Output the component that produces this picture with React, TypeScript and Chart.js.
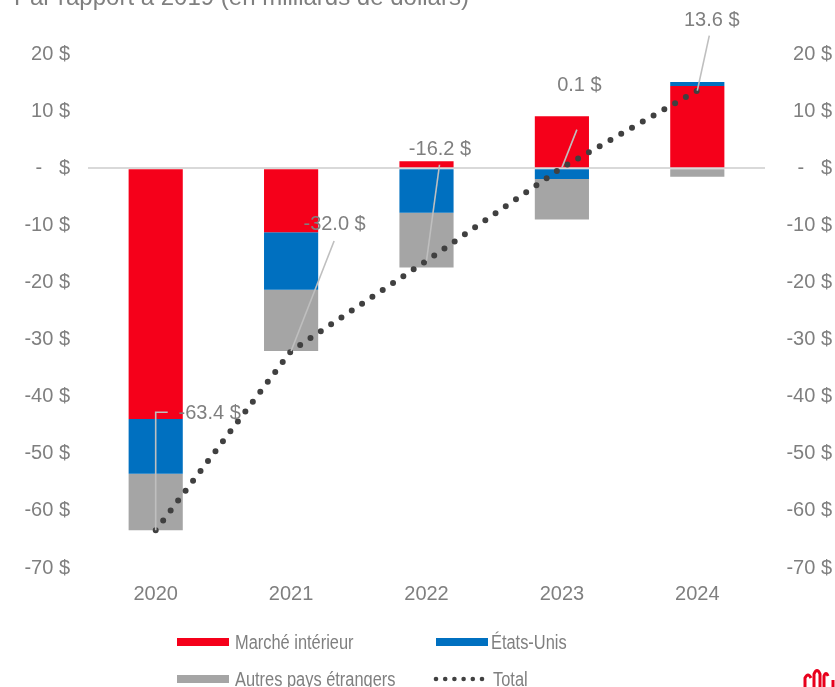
import React, { useEffect, useRef } from 'react';
import { Chart, registerables } from 'chart.js';

Chart.register(...registerables);

const categories = ['2020', '2021', '2022', '2023', '2024'];
const domesticMarket = [-43.9, -11.2, 1.2, 9.1, 14.4];
const unitedStates = [-9.6, -10.1, -7.8, -1.9, 0.7];
const otherForeign = [-9.9, -10.7, -9.6, -7.1, -1.5];
const totalValues = [-63.4, -32.0, -16.2, 0.1, 13.6];
const tickValues = [20, 10, 0, -10, -20, -30, -40, -50, -60, -70];

const titleText = 'Par rapport à 2019 (en milliards de dollars)';
const seriesNames = ['Marché intérieur', 'États-Unis', 'Autres pays étrangers', 'Total'];

const RED = '#F5001A';
const BLUE = '#0070C0';
const GRAY = '#A5A5A5';
const DOT = '#404040';
const TEXT = '#7F7F7F';

// label placement relative to each total point (pixels)
const labelLayout = [
  { dx: 54, dy: -117, leader: [[0, 0], [0, -118], [12, -118]] },
  { dx: 43.5, dy: -126, leader: [[0, 0], [43, -110]] },
  { dx: 13.5, dy: -111, leader: [[0, 0], [13, -96]] },
  { dx: 17.5, dy: -82, leader: [[0, 0], [15, -38]] },
  { dx: 14.5, dy: -70, leader: [[0, 0], [12, -55]] },
];

const tickLabel = (v: number) => (v === 0 ? '-\u00a0\u00a0\u00a0$' : `${v} $`);

const overlayPlugin = {
  id: 'overlay',
  afterDatasetsDraw(chart: any) {
    const ctx = chart.ctx;
    const meta = chart.getDatasetMeta(3);
    ctx.save();
    meta.data.forEach((pt: any, i: number) => {
      const lay = labelLayout[i];
      const x0 = pt.x;
      const y0 = pt.y;
      ctx.strokeStyle = '#BFBFBF';
      ctx.lineWidth = 1.6;
      ctx.beginPath();
      lay.leader.forEach((p, k) => {
        if (k === 0) ctx.moveTo(x0 + p[0], y0 + p[1]);
        else ctx.lineTo(x0 + p[0], y0 + p[1]);
      });
      ctx.stroke();
      ctx.fillStyle = TEXT;
      ctx.font = '20px "Liberation Sans", Arial, sans-serif';
      ctx.textAlign = 'center';
      ctx.textBaseline = 'middle';
      ctx.fillText(`${totalValues[i].toFixed(1)} $`, x0 + lay.dx, y0 + lay.dy);
    });
    ctx.restore();
  },
  afterDraw(chart: any) {
    const ctx = chart.ctx;
    ctx.save();
    // title (partly cut at the top)
    ctx.fillStyle = TEXT;
    ctx.font = '24px "Liberation Sans", Arial, sans-serif';
    ctx.textAlign = 'left';
    ctx.textBaseline = 'alphabetic';
    ctx.fillText(titleText, 14, 5);

    // legend
    const narrow = '20px "Liberation Sans Narrow", "Liberation Sans", Arial, sans-serif';
    const normal = '20px "Liberation Sans", Arial, sans-serif';
    ctx.font = normal;
    const wNormal = ctx.measureText(seriesNames[0]).width;
    ctx.font = narrow;
    const wNarrow = ctx.measureText(seriesNames[0]).width;
    const sx = Math.abs(wNormal - wNarrow) < 1 ? 0.82 : 1;

    const drawText = (t: string, x: number, y: number) => {
      ctx.save();
      ctx.translate(x, y);
      ctx.scale(sx, 1);
      ctx.fillStyle = TEXT;
      ctx.textAlign = 'left';
      ctx.textBaseline = 'middle';
      ctx.fillText(t, 0, 0);
      ctx.restore();
    };
    const row1 = 642;
    const row2 = 679;
    ctx.fillStyle = RED;
    ctx.fillRect(177, row1 - 4, 52, 8);
    drawText(seriesNames[0], 235, row1 + 1);
    ctx.fillStyle = BLUE;
    ctx.fillRect(436, row1 - 4, 52, 8);
    drawText(seriesNames[1], 491, row1 + 1);
    ctx.fillStyle = GRAY;
    ctx.fillRect(177, row2 - 4, 52, 8);
    drawText(seriesNames[2], 235, row2 + 1);
    ctx.fillStyle = DOT;
    for (let k = 0; k < 6; k++) {
      ctx.beginPath();
      ctx.arc(436 + k * 9.2, row2, 2.3, 0, Math.PI * 2);
      ctx.fill();
    }
    drawText(seriesNames[3], 493, row2 + 1);

    // partial logo at the bottom right
    ctx.strokeStyle = '#E8001C';
    ctx.lineWidth = 3;
    ctx.lineCap = 'butt';
    ctx.beginPath();
    ctx.moveTo(805, 688);
    ctx.lineTo(805, 678);
    ctx.quadraticCurveTo(808, 672, 811, 678);
    ctx.moveTo(814, 688);
    ctx.lineTo(814, 674);
    ctx.quadraticCurveTo(817, 667, 820, 674);
    ctx.lineTo(820, 688);
    ctx.moveTo(824, 688);
    ctx.lineTo(824, 676);
    ctx.quadraticCurveTo(826, 671, 828, 676);
    ctx.moveTo(833, 688);
    ctx.lineTo(833, 680);
    ctx.stroke();
    ctx.restore();
  },
};

export default function App() {
  const ref = useRef<HTMLCanvasElement | null>(null);

  useEffect(() => {
    if (!ref.current) return;
    const tickFont = { family: '"Liberation Sans", Arial, sans-serif', size: 20 };
    const chart = new Chart(ref.current, {
      type: 'bar',
      data: {
        labels: categories,
        datasets: [
          { type: 'bar', label: seriesNames[0], data: domesticMarket, backgroundColor: RED, stack: 'bars', order: 1, categoryPercentage: 1, barPercentage: 0.4 } as any,
          { type: 'bar', label: seriesNames[1], data: unitedStates, backgroundColor: BLUE, stack: 'bars', order: 1, categoryPercentage: 1, barPercentage: 0.4 } as any,
          { type: 'bar', label: seriesNames[2], data: otherForeign, backgroundColor: GRAY, stack: 'bars', order: 1, categoryPercentage: 1, barPercentage: 0.4 } as any,
          {
            type: 'line',
            label: seriesNames[3],
            data: totalValues,
            stack: 'total',
            order: 0,
            borderColor: DOT,
            borderWidth: 6,
            borderDash: [0, 12.4],
            borderCapStyle: 'round',
            pointRadius: 0,
            fill: false,
            tension: 0,
          } as any,
        ],
      },
      options: {
        responsive: false,
        animation: false,
        devicePixelRatio: 1,
        layout: { padding: { top: 54, left: 0, right: 3, bottom: 0 } },
        plugins: { legend: { display: false }, tooltip: { enabled: false } },
        scales: {
          x: {
            stacked: true,
            grid: { display: false, drawTicks: false },
            border: { display: false },
            ticks: { color: TEXT, font: tickFont, padding: 14 },
            afterFit: (s: any) => { s.height = 119; },
          },
          y: {
            stacked: true,
            position: 'left',
            min: -70,
            max: 20,
            afterBuildTicks: (s: any) => { s.ticks = tickValues.map((v) => ({ value: v })); },
            ticks: { color: TEXT, font: tickFont, padding: 18, callback: (v: any) => tickLabel(Number(v)) },
            grid: {
              drawTicks: false,
              color: (c: any) => (c.tick && c.tick.value === 0 ? '#D9D9D9' : 'rgba(0,0,0,0)'),
              lineWidth: 2,
            },
            border: { display: false },
            afterFit: (s: any) => { s.width = 88; },
          },
          y2: {
            position: 'right',
            min: -70,
            max: 20,
            afterBuildTicks: (s: any) => { s.ticks = tickValues.map((v) => ({ value: v })); },
            ticks: { color: TEXT, font: tickFont, padding: 15, crossAlign: 'far', callback: (v: any) => tickLabel(Number(v)) },
            grid: { display: false, drawTicks: false },
            border: { display: false },
            afterFit: (s: any) => { s.width = 67; },
          },
        },
      } as any,
      plugins: [overlayPlugin],
    });
    return () => chart.destroy();
  }, []);

  return (
    <div style={{ position: 'fixed', left: 0, top: 0, width: 835, height: 687, background: '#fff' }}>
      <canvas ref={ref} width={835} height={687} style={{ display: 'block', width: 835, height: 687 }} />
    </div>
  );
}
